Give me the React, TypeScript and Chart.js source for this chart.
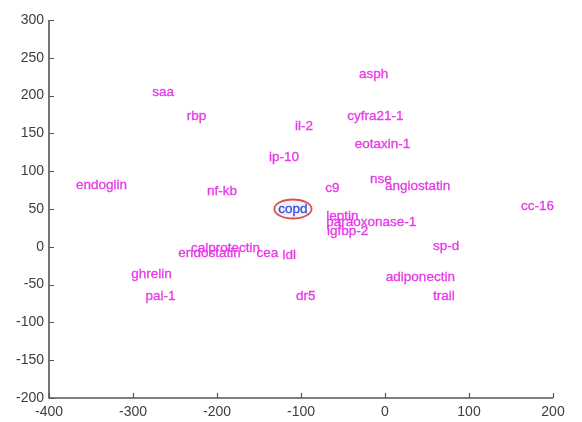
import React, { useEffect, useRef } from "react";
import { Chart, registerables } from "chart.js";

Chart.register(...registerables);

const NAMES = [
  "saa", "rbp", "endoglin", "nf-kb", "ip-10", "il-2", "asph", "cyfra21-1",
  "eotaxin-1", "nse", "angiostatin", "c9", "cc-16", "copd", "leptin",
  "paraoxonase-1", "igfbp-2", "sp-d", "adiponectin", "trail", "dr5", "ldl",
  "endostatin", "calprotectin", "cea", "ghrelin", "pai-1",
];
const XS = [
  -277, -236, -368, -212, -138, -107, -31, -45,
  -36, -18, 0, -71, 162, -127, -70,
  -70, -69, 57, 1, 57, -106, -122,
  -246, -231, -153, -302, -285,
];
const YS = [
  205, 172, 82, 74, 118, 160, 228, 172,
  136, 89, 80, 77, 54, 50, 40,
  32, 20, 1, -40, -66, -66, -11,
  -8, -2, -8, -36, -66,
];
const X_MIN = -400;
const X_MAX = 200;
const X_STEP = 100;
const Y_MIN = -200;
const Y_MAX = 300;
const Y_STEP = 50;
const HIGHLIGHT = "copd";

const LABEL_FONT = "13.5px 'Liberation Sans', Arial, sans-serif";
const LABEL_COLOR = "#e83ce8";
const HIGHLIGHT_COLOR = "#3a4fd8";
const RING_COLOR = "#e0504a";
const AXIS_COLOR = "#555555";

const labelPlugin = {
  id: "textLabels",
  afterDatasetsDraw(chart: any) {
    const { ctx, scales } = chart;
    const xs = scales.x;
    const ys = scales.y;
    ctx.save();
    ctx.font = LABEL_FONT;
    ctx.textAlign = "left";
    ctx.textBaseline = "middle";
    ctx.lineWidth = 0.35;
    NAMES.forEach((name, i) => {
      const px = xs.getPixelForValue(XS[i]);
      const py = ys.getPixelForValue(YS[i]);
      let color = LABEL_COLOR;
      if (name === HIGHLIGHT) {
        const w = ctx.measureText(name).width;
        ctx.save();
        ctx.beginPath();
        ctx.ellipse(px + w / 2, py, w / 2 + 4, 9.5, 0, 0, Math.PI * 2);
        ctx.fillStyle = "rgba(230,235,255,0.6)";
        ctx.fill();
        ctx.lineWidth = 1.8;
        ctx.strokeStyle = RING_COLOR;
        ctx.stroke();
        ctx.restore();
        color = HIGHLIGHT_COLOR;
      }
      ctx.fillStyle = color;
      ctx.strokeStyle = color;
      ctx.fillText(name, px, py);
      ctx.strokeText(name, px, py);
    });
    ctx.restore();
  },
};

const axesPlugin = {
  id: "matlabAxes",
  afterDraw(chart: any) {
    const { ctx, chartArea, scales } = chart;
    const xs = scales.x;
    const ys = scales.y;
    ctx.save();
    ctx.strokeStyle = AXIS_COLOR;
    ctx.lineWidth = 1.6;
    ctx.beginPath();
    ctx.moveTo(chartArea.left, chartArea.top);
    ctx.lineTo(chartArea.left, chartArea.bottom);
    ctx.lineTo(chartArea.right, chartArea.bottom);
    ctx.stroke();
    ctx.lineWidth = 1.2;
    ctx.beginPath();
    xs.ticks.forEach((t: any) => {
      const p = Math.round(xs.getPixelForValue(t.value)) + 0.5;
      ctx.moveTo(p, chartArea.bottom);
      ctx.lineTo(p, chartArea.bottom - 5);
    });
    ys.ticks.forEach((t: any) => {
      const p = Math.round(ys.getPixelForValue(t.value)) + 0.5;
      ctx.moveTo(chartArea.left, p);
      ctx.lineTo(chartArea.left + 5, p);
    });
    ctx.stroke();
    ctx.restore();
  },
};

export default function App() {
  const ref = useRef<HTMLCanvasElement | null>(null);
  useEffect(() => {
    if (!ref.current) return;
    const chart = new Chart(ref.current, {
      type: "scatter",
      data: {
        datasets: [
          {
            data: XS.map((x, i) => ({ x, y: YS[i] })),
            pointRadius: 0,
            pointHoverRadius: 0,
          },
        ],
      },
      options: {
        animation: false,
        responsive: false,
        events: [],
        layout: { padding: { left: 0, top: 20, right: 29, bottom: 0 } },
        plugins: { legend: { display: false }, tooltip: { enabled: false } },
        scales: {
          x: {
            type: "linear",
            min: X_MIN,
            max: X_MAX,
            grid: { display: false, drawTicks: false },
            border: { display: false },
            afterFit: (s: any) => {
              s.height = 24;
            },
            ticks: {
              stepSize: X_STEP,
              autoSkip: false,
              padding: 6,
              maxRotation: 0,
              color: "#3d3d3d",
              font: { family: "'Liberation Sans', Arial, sans-serif", size: 14 },
            },
          },
          y: {
            type: "linear",
            min: Y_MIN,
            max: Y_MAX,
            grid: { display: false, drawTicks: false },
            border: { display: false },
            afterFit: (s: any) => {
              s.width = 49;
            },
            ticks: {
              stepSize: Y_STEP,
              autoSkip: false,
              padding: 5,
              color: "#3d3d3d",
              font: { family: "'Liberation Sans', Arial, sans-serif", size: 14 },
            },
          },
        },
      },
      plugins: [labelPlugin, axesPlugin],
    });
    return () => chart.destroy();
  }, []);
  return (
    <div style={{ position: "fixed", left: 0, top: 0, width: 582, height: 422, background: "#fff" }}>
      <canvas ref={ref} width={582} height={422} />
    </div>
  );
}
